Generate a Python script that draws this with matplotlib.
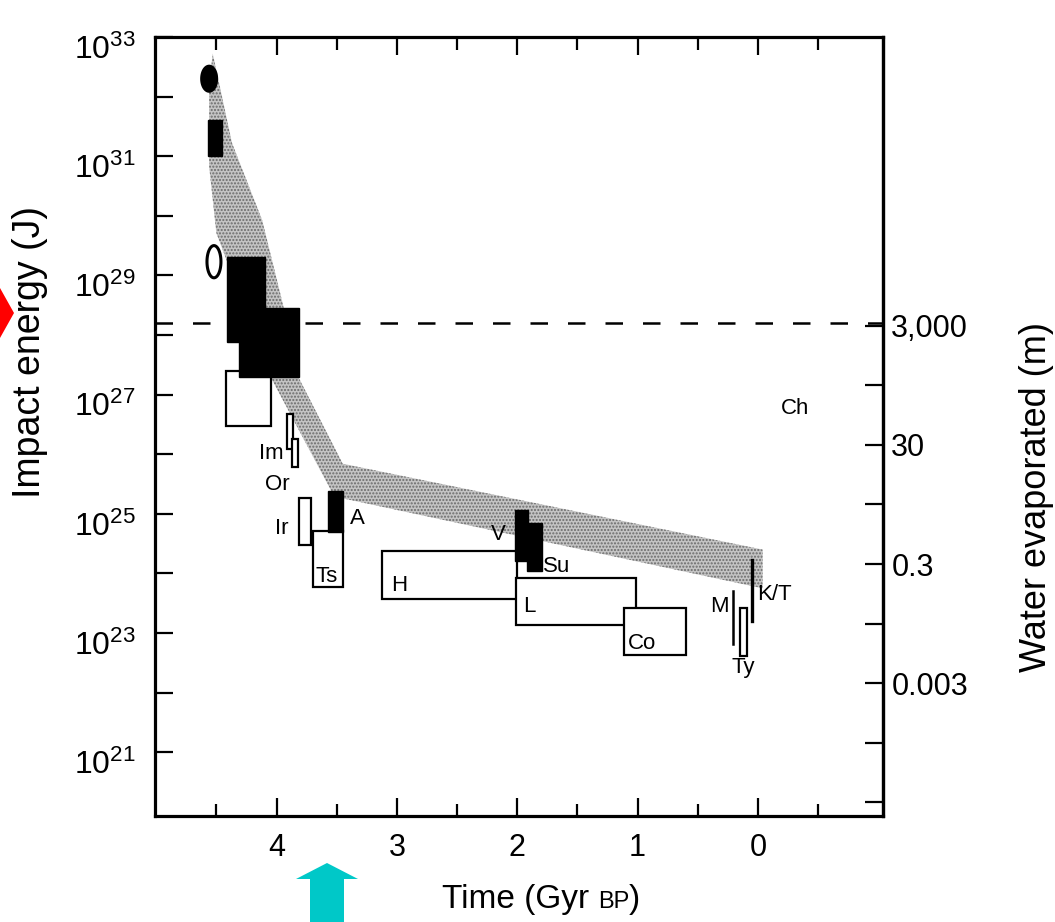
import numpy as np
import matplotlib
matplotlib.use("Agg")
import matplotlib.pyplot as plt
from matplotlib.patches import Polygon
from matplotlib.ticker import FuncFormatter, NullLocator
from matplotlib.transforms import ScaledTranslation
from matplotlib.offsetbox import TextArea, HPacker, AnchoredOffsetbox

plt.rcParams['font.family'] = ['Liberation Sans', 'DejaVu Sans']
plt.rcParams['mathtext.fontset'] = 'custom'
plt.rcParams['mathtext.rm'] = 'Liberation Sans'

# shaded band (time in Gyr BP, log10 impact energy in J)
band_t_upper = [4.53, 4.37, 4.12, 3.95, 3.81, 3.45, -0.04]
band_e_upper = [32.72, 31.22, 29.93, 28.54, 27.26, 25.84, 24.40]
band_t_lower = [-0.04, 3.52, 4.04, 4.50, 4.56, 4.56]
band_e_lower = [23.75, 25.29, 27.26, 29.71, 30.83, 32.22]

# boxes: older time, younger time, log10 energy low, log10 energy high, filled
box_names = ['', 'big1', 'big2', 'open', 'Im', 'Or', 'Ir', 'A', 'Ts',
             'H', 'V', 'Su', 'L', 'Co', 'Ty']
box_t_old = [4.57, 4.41, 4.31, 4.42, 3.91, 3.87, 3.81, 3.57, 3.70,
             3.12, 2.02, 1.92, 2.01, 1.11, 0.15]
box_t_young = [4.45, 4.10, 3.81, 4.05, 3.86, 3.82, 3.71, 3.45, 3.45,
               2.00, 1.91, 1.79, 1.01, 0.60, 0.09]
box_e_low = [31.00, 27.88, 27.29, 26.47, 26.09, 25.79, 24.47, 24.70, 23.77,
             23.57, 24.20, 24.04, 23.14, 22.63, 22.62]
box_e_high = [31.60, 29.31, 28.46, 27.39, 26.67, 26.26, 25.27, 25.39, 24.72,
              24.37, 25.07, 24.84, 23.92, 23.42, 23.42]
box_filled = [True, True, True, False, False, False, False, True, False,
              False, True, True, False, False, False]

# ellipses: centre time, centre log10 energy, half width (Gyr), half height (dex), filled
ell_t = [4.56, 4.52]
ell_e = [32.30, 29.23]
ell_hw = [0.062, 0.058]
ell_hh = [0.21, 0.27]
ell_filled = [True, False]

# single line events
line_names = ['M', 'K/T']
line_t = [0.21, 0.05]
line_e_low = [22.82, 23.20]
line_e_high = [23.70, 24.22]

# event labels
label_text = ['Im', 'Or', 'Ir', 'A', 'Ts', 'H', 'V', 'Su', 'L', 'Co', 'M', 'Ty', 'K/T', 'Ch']
label_t = [4.04, 3.99, 3.96, 3.33, 3.58, 2.98, 2.16, 1.67, 1.90, 0.96, 0.32, 0.12, -0.14, -0.31]
label_e = [26.01, 25.49, 24.75, 24.92, 23.95, 23.79, 24.65, 24.12, 23.45, 22.83, 23.45, 22.42, 23.65, 26.76]

sterilize_e = 28.20          # dashed line, log10 J
water_offset = 24.68         # log10(J per m of water evaporated)
water_ticks = [3e-5, 3e-4, 3e-3, 3e-2, 0.3, 3, 30, 300, 3000]
water_labels = {3000: '3,000', 30: '30', 0.3: '0.3', 3e-3: '0.003'}

W, H = 1055, 922
fig = plt.figure(figsize=(W / 100, H / 100), dpi=100)
ax = fig.add_axes([155 / W, 1 - 816 / H, (883 - 155) / W, (816 - 37) / H])
ax.set_yscale('log')
ax.set_xlim(5.01, -1.04)
ax.set_ylim(10**19.93, 10**33.0)

# band
bt = band_t_upper + band_t_lower
be = 10**np.array(band_e_upper + band_e_lower)
ax.fill(bt, be, facecolor='#c4c4c4', edgecolor='#6a6a6a', hatch='.....',
        linewidth=0, zorder=1)

# boxes
for i in range(len(box_names)):
    lo, hi = 10**box_e_low[i], 10**box_e_high[i]
    if box_filled[i]:
        ax.bar(box_t_young[i], hi - lo, width=box_t_old[i] - box_t_young[i],
               bottom=lo, align='edge', color='black', edgecolor='black',
               linewidth=1, zorder=3)
    else:
        ax.bar(box_t_young[i], hi - lo, width=box_t_old[i] - box_t_young[i],
               bottom=lo, align='edge', color='white', edgecolor='black',
               linewidth=1.6, zorder=2)

th = np.linspace(0, 2 * np.pi, 120)
for i in range(len(ell_t)):
    xs = ell_t[i] + ell_hw[i] * np.cos(th)
    ys = 10**(ell_e[i] + ell_hh[i] * np.sin(th))
    ax.fill(xs, ys, facecolor='black' if ell_filled[i] else 'white',
            edgecolor='black', linewidth=2.2, zorder=3)

for i in range(len(line_names)):
    ax.plot([line_t[i], line_t[i]], [10**line_e_low[i], 10**line_e_high[i]],
            color='black', lw=1.8 if line_names[i] == 'M' else 2.4, zorder=3)

for s, t, e in zip(label_text, label_t, label_e):
    ax.text(t, 10**e, s, fontsize=16, ha='center', va='center', zorder=4)

ax.axhline(10**sterilize_e, color='black', lw=1.8, dashes=(7, 8), zorder=2)

# axes styling
for sp in ax.spines.values():
    sp.set_linewidth(2.3)
ax.set_xticks([4, 3, 2, 1, 0])
ax.set_xticks([4.5, 3.5, 2.5, 1.5, 0.5, -0.5], minor=True)
ax.tick_params(axis='x', which='both', direction='in', top=True, width=1.6,
               labelsize=22, pad=12)
ax.tick_params(axis='x', which='major', length=13)
ax.tick_params(axis='x', which='minor', length=9)

ax.set_yticks([10.0**k for k in range(21, 34)])
ax.yaxis.set_minor_locator(NullLocator())
ax.yaxis.set_major_formatter(FuncFormatter(
    lambda v, p: r'$\mathregular{10^{%d}}$' % round(np.log10(v))
    if round(np.log10(v)) % 2 == 1 else ''))
ax.tick_params(axis='y', direction='in', right=False, length=13, width=1.6,
               labelsize=23, pad=14)
shift = ScaledTranslation(0, -7 / 72, fig.dpi_scale_trans)
for lab in ax.get_yticklabels():
    lab.set_transform(lab.get_transform() + shift)

sec = ax.secondary_yaxis('right', functions=(lambda e: e / 10**water_offset,
                                             lambda w: w * 10**water_offset))
sec.set_yticks(water_ticks)
sec.set_yticklabels([water_labels.get(v, '') for v in water_ticks])
sec.yaxis.set_minor_locator(NullLocator())
sec.tick_params(axis='y', direction='in', length=13, width=1.6, labelsize=22, pad=6)
sec.spines['right'].set_linewidth(2.3)

fig.text(30 / W, 1 - 352 / H, 'Impact energy (J)', rotation=90, fontsize=27,
         ha='center', va='center')
fig.text(1036 / W, 1 - 497 / H, 'Water evaporated (m)', rotation=90, fontsize=26,
         ha='center', va='center')

xlab = HPacker(children=[TextArea('Time (Gyr ', textprops=dict(size=24)),
                         TextArea('BP', textprops=dict(size=17)),
                         TextArea(')', textprops=dict(size=24))],
               align='baseline', pad=0, sep=0)
fig.add_artist(AnchoredOffsetbox(loc='center', child=xlab, frameon=False,
                                 bbox_to_anchor=(541 / W, 1 - 899 / H),
                                 bbox_transform=fig.transFigure, pad=0, borderpad=0))

# red and cyan pointer arrows at the margins
fig.add_artist(Polygon([(0, 1 - 288 / H), (14 / W, 1 - 313 / H), (0, 1 - 338 / H)],
                       closed=True, transform=fig.transFigure,
                       facecolor='#ff0000', edgecolor='none'))
fig.add_artist(Polygon([(310 / W, 0), (310 / W, 1 - 879 / H), (296 / W, 1 - 879 / H),
                        (327 / W, 1 - 863 / H), (358 / W, 1 - 879 / H),
                        (344 / W, 1 - 879 / H), (344 / W, 0)],
                       closed=True, transform=fig.transFigure,
                       facecolor='#00c8c8', edgecolor='none'))

fig.savefig('out.png', dpi=100, facecolor='white')
